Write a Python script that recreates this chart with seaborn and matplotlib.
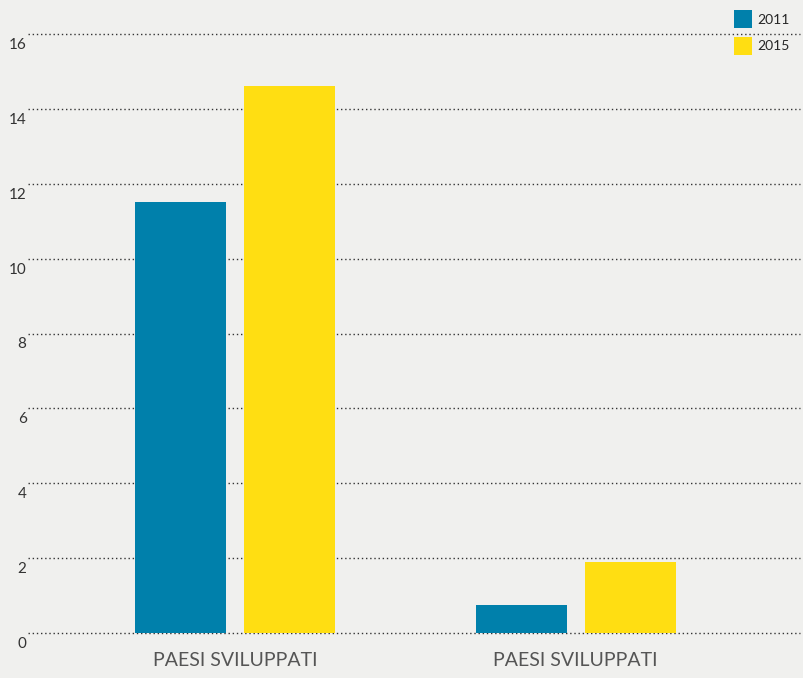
import matplotlib
matplotlib.use("Agg")
import matplotlib.pyplot as plt
import matplotlib.transforms as mtransforms
import seaborn as sns
import pandas as pd

# data
group_labels = ["PAESI SVILUPPATI", "PAESI SVILUPPATI"]
years = ["2011", "2015"]
values_2011 = [11.5, 0.74]
values_2015 = [14.6, 1.9]
yticks = [0, 2, 4, 6, 8, 10, 12, 14, 16]

rows = []
for i in range(len(group_labels)):
    rows.append({"group": i, "year": years[0], "value": values_2011[i]})
    rows.append({"group": i, "year": years[1], "value": values_2015[i]})
df = pd.DataFrame(rows)

bg = "#f0f0ee"
sns.set_style("white")
plt.rcParams["font.family"] = ["Lato", "DejaVu Sans"]

fig = plt.figure(figsize=(8.04, 6.78), dpi=100, facecolor=bg)
ax = fig.add_axes([28 / 804, 1 - 633 / 678, 772 / 804, 599 / 678])
ax.set_facecolor(bg)

palette = {"2011": "#0080ab", "2015": "#ffde12"}
sns.barplot(data=df, x="group", y="value", hue="year", hue_order=years,
            palette=palette, width=0.641, gap=0.165, saturation=1,
            edgecolor="none", linewidth=0, ax=ax, zorder=3)

ax.set_xlim(-0.61, 1.66)
ax.set_ylim(0, 16)
ax.set_yticks(yticks)
ax.set_yticklabels([str(v) for v in yticks], fontsize=11, color="#333333")
ax.set_xticks(range(len(group_labels)))
ax.set_xticklabels(group_labels, fontsize=14, color="#555555")
ax.tick_params(axis="both", length=0)
ax.tick_params(axis="x", pad=14)
ax.tick_params(axis="y", pad=1)
offset = mtransforms.ScaledTranslation(0, -4 / 100, fig.dpi_scale_trans)
for lab in ax.get_yticklabels():
    lab.set_va("top")
    lab.set_transform(lab.get_transform() + offset)

for v in yticks:
    ax.axhline(v, color="#333333", linestyle=(0, (1, 2)), linewidth=1,
               zorder=1, clip_on=False)

for s in ax.spines.values():
    s.set_visible(False)
ax.set_xlabel("")
ax.set_ylabel("")

handles, labels = ax.get_legend_handles_labels()
ax.legend(handles, labels, loc="upper left",
          bbox_to_anchor=(734 / 804, 1 - 10 / 678),
          bbox_transform=fig.transFigure, frameon=False, fontsize=10,
          handlelength=1.3, handleheight=1.615, labelspacing=0.62,
          handletextpad=0.36, borderpad=0, borderaxespad=0)

fig.savefig("out.png", dpi=100, facecolor=bg)
